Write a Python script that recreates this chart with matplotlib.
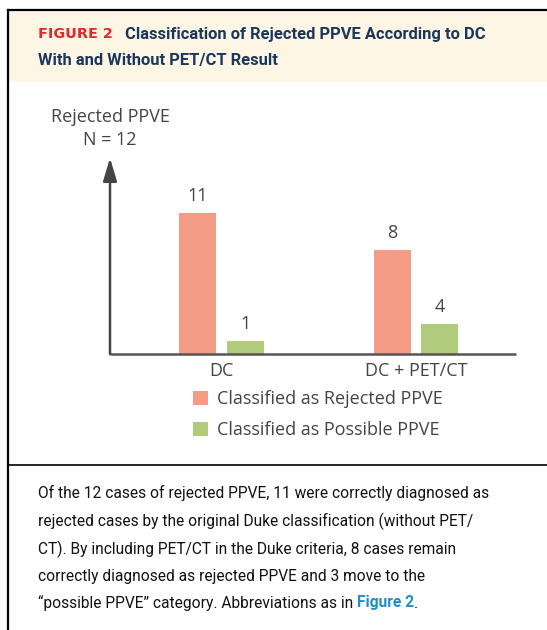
import matplotlib
matplotlib.use("Agg")
import matplotlib.pyplot as plt
from matplotlib.patches import Rectangle, Patch

# data
groups = ["DC", "DC + PET/CT"]
series = ["Classified as Rejected PPVE", "Classified as Possible PPVE"]
rejected_vals = [11, 8]
possible_vals = [1, 4]
# drawn bar heights as they appear in the source (the "4" bar is drawn short)
rejected_heights = [11, 8.1]
possible_heights = [1, 2.35]

salmon = "#F49C86"
green = "#AFCB7B"
gray_text = "#444444"
navy = "#1B365D"
red = "#E2282E"
blue = "#1F8FC4"

W, H = 547, 630
fig = plt.figure(figsize=(W / 100, H / 100), dpi=100)

# background / frame layer in pixel coordinates
bg = fig.add_axes([0, 0, 1, 1])
bg.set_xlim(0, W)
bg.set_ylim(H, 0)
bg.axis("off")
bg.add_patch(Rectangle((8, 10), W, 72, facecolor="#FDF6E4", edgecolor="none"))
bg.plot([8, W], [10, 10], color="black", lw=1.6)
bg.plot([8, 8], [10, H], color="black", lw=1.6)
bg.plot([8, W], [465, 465], color="black", lw=1.2)

# header
t1 = bg.text(38, 34, "FIGURE 2", color=red, fontsize=10.4, fontweight="bold",
             family="DejaVu Sans", va="center", ha="left")
bg.annotate("Classification of Rejected PPVE According to DC", xy=(1, 0.5),
            xycoords=t1, xytext=(9, 0), textcoords="offset points",
            color=navy, fontsize=11.9, fontweight="bold", family="Roboto",
            va="center", ha="left")
bg.text(38, 60, "With and Without PET/CT Result", color=navy, fontsize=11.9,
        fontweight="bold", family="Roboto", va="center", ha="left")

# caption
cap_lines = [
    "Of the 12 cases of rejected PPVE, 11 were correctly diagnosed as",
    "rejected cases by the original Duke classification (without PET/",
    "CT). By including PET/CT in the Duke criteria, 8 cases remain",
    "correctly diagnosed as rejected PPVE and 3 move to the",
]
cap_fs = 11.2
cap_y = [493, 521, 549, 577, 603]
for s, y in zip(cap_lines, cap_y):
    bg.text(38, y, s, fontsize=cap_fs, family="Roboto", color="#111111",
            va="center", ha="left")
c1 = bg.text(38, cap_y[4], "\u201cpossible PPVE\u201d category. Abbreviations as in ",
             fontsize=cap_fs, family="Roboto", color="#111111", va="center", ha="left")
c2 = bg.annotate("Figure 2", xy=(1, 0.5), xycoords=c1, va="center", ha="left",
                 fontsize=cap_fs, family="Roboto", fontweight="bold", color=blue)
bg.annotate(".", xy=(1, 0.5), xycoords=c2, va="center", ha="left",
            fontsize=cap_fs, family="Roboto", color="#111111")

# chart axes: left 110px, right 516px, bottom 354px, top 158px
ax = fig.add_axes([110 / W, 1 - 354 / H, (516 - 110) / W, (354 - 158) / H])
ax.patch.set_alpha(0)
ymax = (354 - 158) / 12.8
ax.set_ylim(0, ymax)
ax.set_xlim(-0.573, 1.514)
for sp in ax.spines.values():
    sp.set_visible(False)
ax.set_xticks([])
ax.set_yticks([])

fs = 13
xs = [0, 1]
off, bw = 0.123, 0.19
b1 = ax.bar([x - off for x in xs], rejected_heights, width=bw, color=salmon,
            label=series[0])
b2 = ax.bar([x + off for x in xs], possible_heights, width=bw, color=green,
            label=series[1])
for bars, vals in ((b1, rejected_vals), (b2, possible_vals)):
    for r, v in zip(bars, vals):
        ax.annotate(str(v), xy=(r.get_x() + r.get_width() / 2, r.get_height()),
                    xytext=(0, 12.5), textcoords="offset points", ha="center",
                    va="center", fontsize=fs, family="Open Sans", color=gray_text)

# axes lines with arrow on y
ax.plot([-0.573, 1.514], [0, 0], color="#555555", lw=1.8, clip_on=False,
        solid_capstyle="butt")
ax.annotate("", xy=(-0.573, ymax), xytext=(-0.573, 0),
            arrowprops=dict(arrowstyle="-|>,head_length=1.4,head_width=0.42",
                            color="#444444", lw=1.8, shrinkA=0, shrinkB=0))

for x, g in zip(xs, groups):
    ax.text(x, -1.35, g, ha="center", va="center", fontsize=fs,
            family="Open Sans", color=gray_text, clip_on=False)

fig.text(110 / W, 1 - 117 / H, "Rejected PPVE", ha="center", va="center",
         fontsize=fs, family="Open Sans", color=gray_text)
fig.text(110 / W, 1 - 140 / H, "N = 12", ha="center", va="center",
         fontsize=fs, family="Open Sans", color=gray_text)

# legend
handles = [Patch(facecolor=salmon), Patch(facecolor=green)]
fig.legend(handles, series, loc="upper left", bbox_to_anchor=(193 / W, 1 - 390 / H),
           frameon=False, prop={"family": "Open Sans", "size": fs},
           labelcolor=gray_text, handlelength=0.85, handleheight=0.85,
           handletextpad=0.5, labelspacing=0.72, borderpad=0, borderaxespad=0)

fig.savefig("out.png", dpi=100)
